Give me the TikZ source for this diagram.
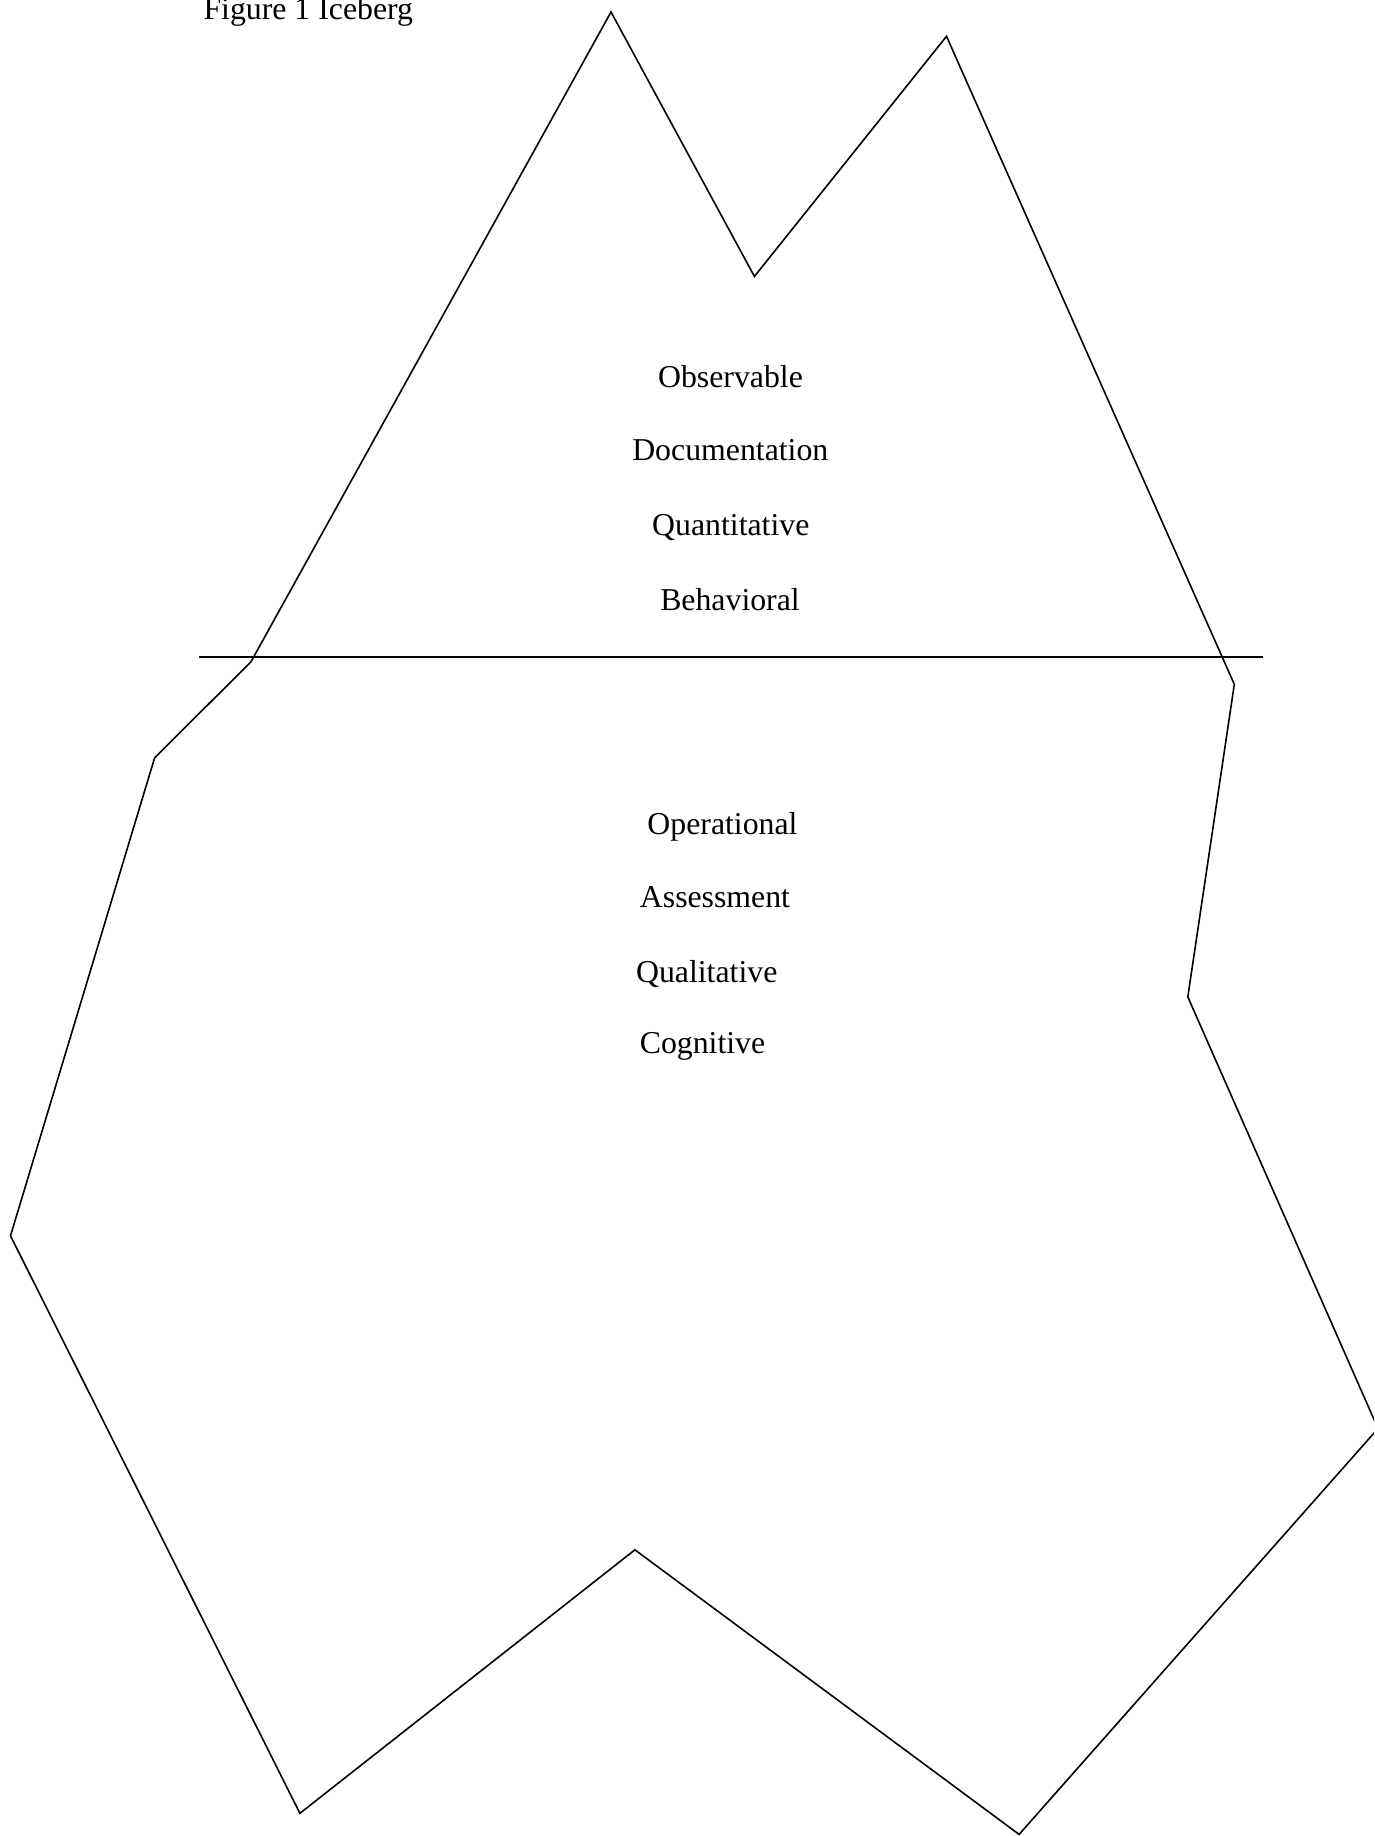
\documentclass[tikz,border=0pt]{standalone}
\usepackage{fontspec}
\setmainfont{Liberation Serif}
\begin{document}
\begin{tikzpicture}[x=1pt,y=-1pt,
  berg/.style={line width=1.6pt,line join=miter},
  lbl/.style={inner sep=0pt,anchor=base,font=\fontsize{31.8}{36}\selectfont}]
\useasboundingbox (0,0) rectangle (1374,1836);
\clip (0,0) rectangle (1374,1836);
% iceberg outline
\coordinate (p1) at (611,12);
\coordinate (p2) at (754.4,276.4);
\coordinate (p3) at (946.5,36.3);
\coordinate (p4) at (1234.3,684.3);
\coordinate (p5) at (1187.8,996.9);
\coordinate (p6) at (1378,1428.5);
\coordinate (p7) at (1019.1,1834.4);
\coordinate (p8) at (634.9,1549.8);
\coordinate (p9) at (299.9,1813.3);
\coordinate (p10) at (10.5,1235.8);
\coordinate (p11) at (154.6,757.9);
\coordinate (p12) at (251,661.7);
\draw[berg] (p1) -- (p2) -- (p3) -- (p4) -- (p5) -- (p6) -- (p7) -- (p8) -- (p9) -- (p10) -- (p11) -- (p12) -- cycle;
% waterline
\coordinate (wl) at (199.3,656.7);
\coordinate (wr) at (1262.7,656.7);
\draw[berg] (wl) -- (wr);
% title
\node[lbl,anchor=base west] (title) at (203.3,19.5) {Figure 1 Iceberg};
% above water
\node[lbl] (t1) at (730.5,387.5) {Observable};
\node[lbl] (t2) at (730.3,460.8) {Documentation};
\node[lbl] (t3) at (730.8,535.3) {Quantitative};
\node[lbl] (t4) at (730,610) {Behavioral};
% below water
\node[lbl] (b1) at (722.5,834) {Operational};
\node[lbl] (b2) at (715,907.5) {Assessment};
\node[lbl] (b3) at (706.7,982.3) {Qualitative};
\node[lbl] (b4) at (702.5,1053.8) {Cognitive};
\end{tikzpicture}
\end{document}
